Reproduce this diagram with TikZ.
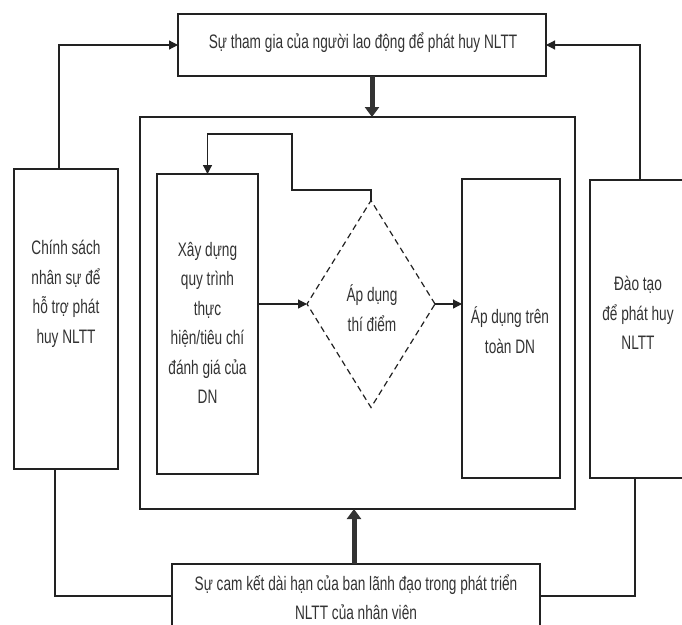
\documentclass[tikz,border=0pt]{standalone}
\usepackage{fontspec}
\setmainfont{Liberation Sans}[FakeStretch=0.70]
\usetikzlibrary{arrows.meta,shapes.geometric}
\definecolor{ink}{HTML}{222222}
\definecolor{txt}{HTML}{333333}
\tikzset{
  box/.style={draw=ink, line width=1.3pt, rectangle, inner sep=0pt, outer sep=0pt, fill=white},
  lbl/.style={align=center, text=txt, inner sep=0pt, font=\fontsize{19.5}{29.5}\selectfont},
  conn/.style={draw=ink, line width=1.2pt, -{Triangle[length=9pt,width=9pt]}},
  plain/.style={draw=ink, line width=1.2pt},
  bigarrow/.style={draw=txt, line width=5pt, -{Triangle[length=10pt,width=14pt]}},
  dia/.style={draw=ink, line width=1.2pt, dash pattern=on 6pt off 4pt, shape=diamond, inner sep=0pt, outer sep=0pt, minimum width=128pt, minimum height=207pt}
}
\begin{document}
\begin{tikzpicture}[x=1pt,y=-1pt]
\useasboundingbox (0,0) rectangle (682,624);
\clip (0,0) rectangle (682,624);
\fill[white] (0,0) rectangle (682,624);
% main boxes
\node[box, minimum width=368pt, minimum height=62pt] (T) at (362,45) {};
\node[lbl] (Tt) at (363,43) {Sự tham gia của người lao động để phát huy NLTT};
\node[box, minimum width=435pt, minimum height=392pt] (M) at (357.5,313) {};
\node[box, minimum width=104pt, minimum height=300pt] (L) at (66,319) {};
\node[lbl] (Lt) at (66,294) {Chính sách\\nhân sự để\\hỗ trợ phát\\huy NLTT};
\node[box, minimum width=100pt, minimum height=298pt] (R) at (640,329) {};
\node[lbl] (Rt) at (638,313) {Đào tạo\\để phát huy\\NLTT};
\node[box, minimum width=368pt, minimum height=64pt] (B) at (356,596) {};
\node[lbl] (Bt) at (356,597) {Sự cam kết dài hạn của ban lãnh đạo trong phát triển\\NLTT của nhân viên};
% inner
\node[box, minimum width=101pt, minimum height=300pt] (X) at (207.5,324) {};
\node[lbl] (Xt) at (207.5,323) {Xây dựng\\quy trình\\thực\\hiện/tiêu chí\\đánh giá của\\DN};
\node[box, minimum width=98pt, minimum height=299pt] (A) at (511,328.5) {};
\node[lbl] (At) at (510,330) {Áp dụng trên\\toàn DN};
\node[dia] (D) at (371,304) {};
\node[lbl] (Dt) at (372,308) {Áp dụng\\thí điểm};
% inner connectors
\draw[conn] (X.east |- D.west) -- (D.west);
\draw[conn] (D.east) -- (D.east -| A.west);
\coordinate (lp1) at (292,190);
\coordinate (lp2) at (207.5,134);
\draw[conn] (D.north) |- (lp1) |- (lp2) -- (X.north);
% outer connectors
\draw[conn] ([xshift=-7pt]L.north) |- (T.west);
\draw[conn] (R.north) |- (T.east);
\draw[plain] ([xshift=-11pt]L.south) |- (B.west);
\draw[plain] ([xshift=-5pt]R.south) |- (B.east);
% thick arrows
\coordinate (ta) at (372,0);
\coordinate (ba) at (354,0);
\draw[bigarrow] (ta |- T.south) -- (ta |- M.north);
\draw[bigarrow] (ba |- B.north) -- (ba |- M.south);
\end{tikzpicture}
\end{document}
